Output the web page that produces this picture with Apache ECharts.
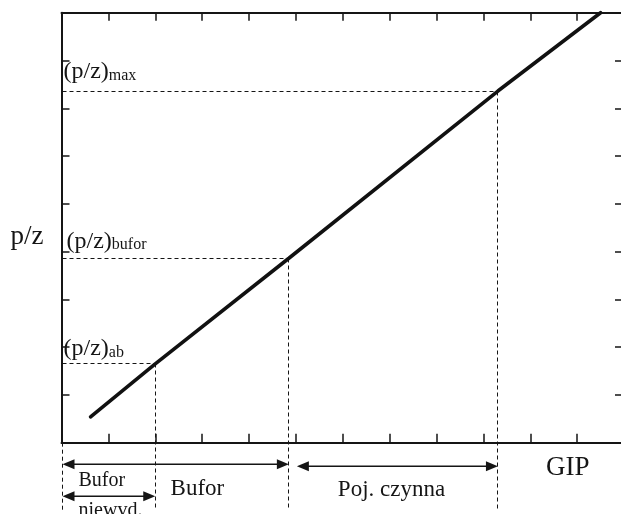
<!DOCTYPE html>
<html>
<head>
<meta charset="utf-8">
<script src="https://cdn.jsdelivr.net/npm/echarts@6.0.0/dist/echarts.min.js"></script>
<style>
  html, body { margin: 0; padding: 0; background: #fff; }
  #chart { width: 621px; height: 514px; }
</style>
</head>
<body>
<div id="chart"></div>
<script>
// Depletion line: gas in place (GIP) vs p/z
const gip = [0.62, 2.0, 4.85, 9.31, 11.5];
const pz = [0.54, 1.65, 3.86, 7.36, 9.0];

// Characteristic p/z levels and the GIP at which the line reaches them
const levelKeys = ['ab', 'bufor', 'max'];
const levelGip = [2.0, 4.85, 9.31];
const levelPz = [1.65, 3.86, 7.36];

// Storage zones marked under the GIP axis
const zoneNames = ['Bufor', 'Poj. czynna', 'Bufor niewvd.'];
const zoneFrom = [0, 5.0, 0];
const zoneTo = [4.85, 9.31, 2.0];

// Axis ranges (tick marks only, no tick labels)
const gipMax = 12;
const pzMax = 9;

const INK = '#151515';
const SERIF = 'Liberation Serif';
const DASH = [4, 3];

const chart = echarts.init(document.getElementById('chart'), null, { renderer: 'canvas' });

// crisp 1px lines
const snap = (v) => Math.round(v - 0.5) + 0.5;

const tickAxis = (extra) => Object.assign({
  type: 'value',
  min: 0,
  interval: 1,
  axisLine: { show: true, onZero: false, lineStyle: { color: INK, width: 2 } },
  axisTick: { show: true, inside: true, length: 8, lineStyle: { color: INK, width: 1.5 } },
  axisLabel: { show: false },
  splitLine: { show: false }
}, extra);

// Dashed guide from the p/z axis to the line, then down below the GIP axis
function renderGuide(params, api) {
  const i = api.value(2);
  const p = api.coord([api.value(0), api.value(1)]);
  const left = api.coord([0, api.value(1)]);
  const base = api.coord([api.value(0), 0])[1];
  const dashStyle = { stroke: INK, lineWidth: 1, lineDash: DASH, fill: null };
  const dy = [15, 17, 19][i];
  const dx = [2, 5, 2][i];
  const y = snap(p[1]), x = snap(p[0]);
  return {
    type: 'group',
    children: [
      { type: 'line', shape: { x1: left[0] + 1, y1: y, x2: x, y2: y }, style: dashStyle },
      { type: 'line', shape: { x1: x, y1: y, x2: x, y2: base + 67 }, style: dashStyle },
      {
        type: 'text',
        x: left[0] + dx,
        y: p[1] - dy,
        style: {
          text: '{m|(p/z)}{s|' + levelKeys[i] + '}',
          verticalAlign: 'middle',
          align: 'left',
          rich: {
            m: { fontFamily: SERIF, fontSize: 24, fill: INK },
            s: { fontFamily: SERIF, fontSize: 16, fill: INK, verticalAlign: 'bottom' }
          }
        }
      }
    ]
  };
}

// Double-headed arrow between two pixel x positions
function arrow(x1, x2, y) {
  const L = 12, W = 5;
  return [
    { type: 'line', shape: { x1: x1 + L - 2, y1: y, x2: x2 - L + 2, y2: y }, style: { stroke: INK, lineWidth: 1.5 } },
    { type: 'polygon', shape: { points: [[x1, y], [x1 + L, y - W], [x1 + L, y + W]] }, style: { fill: INK } },
    { type: 'polygon', shape: { points: [[x2, y], [x2 - L, y - W], [x2 - L, y + W]] }, style: { fill: INK } }
  ];
}

function renderZone(params, api) {
  const i = api.value(2);
  const a = api.coord([api.value(0), 0]);
  const b = api.coord([api.value(1), 0]);
  const base = a[1];
  const rows = [21.5, 23.5, 53.5];
  const kids = arrow(a[0] + 1, b[0], base + rows[i]);
  const txt = (t, x, y, size, align) => ({
    type: 'text', x: x, y: y,
    style: { text: t, fontFamily: SERIF, fontSize: size, fill: INK, align: align, verticalAlign: 'middle' }
  });
  if (i === 0) {
    kids.push(txt(zoneNames[0], api.coord([2.9, 0])[0], base + 46, 23, 'center'));
    // left edge of the zones
    const x0 = snap(a[0] + 1);
    kids.push({ type: 'line', shape: { x1: x0, y1: base, x2: x0, y2: base + 67 },
      style: { stroke: INK, lineWidth: 1, lineDash: DASH } });
  } else if (i === 1) {
    kids.push(txt(zoneNames[1], api.coord([7.04, 0])[0], base + 47, 23, 'center'));
  } else {
    const parts = zoneNames[2].split(' ');
    kids.push(txt(parts[0], a[0] + 17, base + 38, 20, 'left'));
    kids.push(txt(parts[1], a[0] + 17, base + 68, 20, 'left'));
  }
  return { type: 'group', children: kids };
}

// Axis titles: GIP under the x axis, p/z left of the y axis
function renderAxisNames(params, api) {
  const gx = api.coord([api.value(0), 0]);
  const py = api.coord([0, api.value(1)]);
  return {
    type: 'group',
    children: [
      { type: 'text', x: gx[0], y: gx[1] + 25,
        style: { text: 'GIP', fontFamily: SERIF, fontSize: 27, fill: INK, align: 'center', verticalAlign: 'middle' } },
      { type: 'text', x: py[0] - 18, y: py[1] + 9,
        style: { text: 'p/z', fontFamily: SERIF, fontSize: 27, fill: INK, align: 'right', verticalAlign: 'middle' } }
    ]
  };
}

const option = {
  animation: false,
  backgroundColor: '#fff',
  grid: { left: 61.5, top: 12.7, right: -3, bottom: 71.3, containLabel: false, outerBoundsMode: 'none' },
  xAxis: [
    tickAxis({ max: gipMax, position: 'bottom', axisTick: { show: true, inside: true, length: 9, lineStyle: { color: INK, width: 1.5 } } }),
    tickAxis({ max: gipMax, position: 'top' })
  ],
  yAxis: [
    tickAxis({ max: pzMax, position: 'left' }),
    tickAxis({ max: pzMax, position: 'right', axisTick: { show: true, inside: true, length: 9, lineStyle: { color: INK, width: 1.5 } } })
  ],
  series: [
    {
      type: 'line',
      data: gip.map((x, k) => [x, pz[k]]),
      symbol: 'none',
      clip: false,
      lineStyle: { color: '#111', width: 3.6, cap: 'round' },
      z: 5
    },
    {
      type: 'custom',
      renderItem: renderGuide,
      data: levelKeys.map((k, i) => [levelGip[i], levelPz[i], i]),
      encode: { x: 0, y: 1 },
      clip: false,
      silent: true,
      z: 3
    },
    {
      type: 'custom',
      renderItem: renderZone,
      data: zoneNames.map((n, i) => [zoneFrom[i], zoneTo[i], i]),
      encode: { x: [0, 1] },
      clip: false,
      silent: true
    },
    {
      type: 'custom',
      renderItem: renderAxisNames,
      data: [[10.8, pzMax / 2]],
      encode: { x: 0, y: 1 },
      clip: false,
      silent: true
    }
  ]
};

chart.setOption(option);
</script>
</body>
</html>
